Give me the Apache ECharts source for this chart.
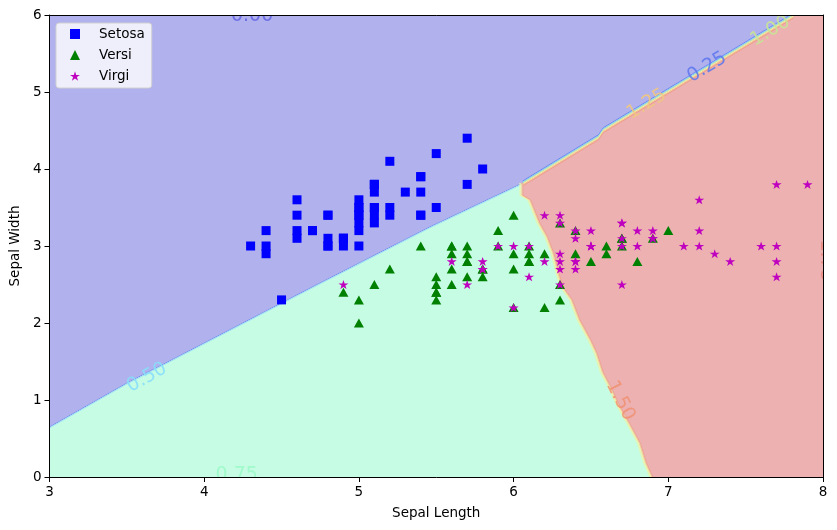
<!DOCTYPE html>
<html>
<head>
<meta charset="utf-8">
<script src="https://cdn.jsdelivr.net/npm/echarts@6/dist/echarts.min.js"></script>
<style>
html, body { margin: 0; padding: 0; background: #fff; }
#main { width: 837px; height: 530px; }
</style>
</head>
<body>
<div id="main"></div>
<script>
// iris: [sepal length, sepal width]
const setosa = [[5.1,3.5],[4.9,3.0],[4.7,3.2],[4.6,3.1],[5.0,3.6],[5.4,3.9],[4.6,3.4],[5.0,3.4],[4.4,2.9],[4.9,3.1],
    [5.4,3.7],[4.8,3.4],[4.8,3.0],[4.3,3.0],[5.8,4.0],[5.7,4.4],[5.4,3.9],[5.1,3.5],[5.7,3.8],[5.1,3.8],
    [5.4,3.4],[5.1,3.7],[4.6,3.6],[5.1,3.3],[4.8,3.4],[5.0,3.0],[5.0,3.4],[5.2,3.5],[5.2,3.4],[4.7,3.2],
    [4.8,3.1],[5.4,3.4],[5.2,4.1],[5.5,4.2],[4.9,3.1],[5.0,3.2],[5.5,3.5],[4.9,3.1],[4.4,3.0],[5.1,3.4],
    [5.0,3.5],[4.5,2.3],[4.4,3.2],[5.0,3.5],[5.1,3.8],[4.8,3.0],[5.1,3.8],[4.6,3.2],[5.3,3.7],[5.0,3.3]];
const versi = [[7.0,3.2],[6.4,3.2],[6.9,3.1],[5.5,2.3],[6.5,2.8],[5.7,2.8],[6.3,3.3],[4.9,2.4],[6.6,2.9],[5.2,2.7],
    [5.0,2.0],[5.9,3.0],[6.0,2.2],[6.1,2.9],[5.6,2.9],[6.7,3.1],[5.6,3.0],[5.8,2.7],[6.2,2.2],[5.6,2.5],
    [5.9,3.2],[6.1,2.8],[6.3,2.5],[6.1,2.8],[6.4,2.9],[6.6,3.0],[6.8,2.8],[6.7,3.0],[6.0,2.9],[5.7,2.6],
    [5.5,2.4],[5.5,2.4],[5.8,2.7],[6.0,2.7],[5.4,3.0],[6.0,3.4],[6.7,3.1],[6.3,2.3],[5.6,3.0],[5.5,2.5],
    [5.5,2.6],[6.1,3.0],[5.8,2.6],[5.0,2.3],[5.6,2.7],[5.7,3.0],[5.7,2.9],[6.2,2.9],[5.1,2.5],[5.7,2.8]];
const virgi = [[6.3,3.3],[5.8,2.7],[7.1,3.0],[6.3,2.9],[6.5,3.0],[7.6,3.0],[4.9,2.5],[7.3,2.9],[6.7,2.5],[7.2,3.6],
    [6.5,3.2],[6.4,2.7],[6.8,3.0],[5.7,2.5],[5.8,2.8],[6.4,3.2],[6.5,3.0],[7.7,3.8],[7.7,2.6],[6.0,2.2],
    [6.9,3.2],[5.6,2.8],[7.7,2.8],[6.3,2.7],[6.7,3.3],[7.2,3.2],[6.2,2.8],[6.1,3.0],[6.4,2.8],[7.2,3.0],
    [7.4,2.8],[7.9,3.8],[6.4,2.8],[6.3,2.8],[6.1,2.6],[7.7,3.0],[6.3,3.4],[6.4,3.1],[6.0,3.0],[6.9,3.1],
    [6.7,3.1],[6.9,3.1],[5.8,2.7],[6.8,3.2],[6.7,3.3],[6.7,3.0],[6.3,2.5],[6.5,3.0],[6.2,3.4],[5.9,3.0]];

// decision boundaries
const boundBlueGreen = [[3.0,0.65],[3.5,1.22],[4.71,2.48],[5.46,3.25],[6.06,3.82]];
const boundBlueRed = [[6.06,3.82],[6.55,4.42],[6.58,4.51],[7.81,6.0]];
const boundGreenRed = [[6.06,3.82],[6.06,3.66],[6.11,3.60],[6.17,3.30],[6.22,3.12],[6.26,2.91],[6.30,2.60],
    [6.32,2.47],[6.38,2.30],[6.43,2.04],[6.50,1.78],[6.54,1.61],[6.58,1.36],[6.63,1.17],[6.69,0.91],
    [6.75,0.70],[6.82,0.44],[6.86,0.18],[6.90,0.0]];

// contour labels: x, y, text, angle
const labelPos = [[4.31,5.99],[7.25,5.32],[3.63,1.29],[4.21,0.03],[7.66,5.79],[6.86,4.84],[6.69,0.99],[8.02,2.81]];
const labelText = ['0.00','0.25','0.50','0.75','1.00','1.25','1.50','1.75'];
const labelAngle = [0, 31, 29, 0, 31, 31, -63, -90];
const labelColor = ['rgba(100,100,228,0.85)','rgba(92,118,238,0.85)','rgba(135,222,250,0.9)','rgba(155,250,200,0.9)',
    'rgba(200,228,150,0.9)','rgba(240,198,130,0.9)','rgba(240,145,115,0.85)','rgba(235,135,125,0.85)'];

const FONT = 'DejaVu Sans';

let myChart = echarts.init(document.getElementById('main'));

// regions built from the boundaries
let polyBlue = [[3,6]].concat(boundBlueGreen, boundBlueRed.slice(1));
let polyGreen = [[3,0]].concat(boundBlueGreen, boundGreenRed.slice(1));
let polyRed = boundBlueRed.concat([[8,6],[8,0]], boundGreenRed.slice().reverse());

function regionSeries(poly, color) {
    return {
        type: 'custom',
        silent: true,
        clip: true,
        z: 1,
        data: [[poly[0][0], poly[0][1]]],
        renderItem: (params, api) => ({
            type: 'polygon',
            shape: { points: poly.map(p => api.coord(p)) },
            style: { fill: color, stroke: color, lineWidth: 0.5 }
        })
    };
}

// thin coloured contour lines along a boundary, shifted a pixel each
function strokeSeries(pts, colors, vertical, start) {
    return {
        type: 'custom',
        silent: true,
        clip: true,
        z: 2,
        data: [[pts[0][0], pts[0][1]]],
        renderItem: (params, api) => {
            let px = pts.map(p => api.coord(p));
            return {
                type: 'group',
                children: colors.map((c, i) => ({
                    type: 'polyline',
                    shape: {
                        points: px.map(p => vertical ? [p[0], p[1] + start + i] : [p[0] + start + i, p[1]])
                    },
                    style: { stroke: c, lineWidth: 1, fill: null }
                }))
            };
        }
    };
}

let option = {
    animation: false,
    backgroundColor: '#fff',
    textStyle: { fontFamily: FONT },
    grid: { left: 48, right: 14, top: 15, bottom: 53 },
    legend: {
        orient: 'vertical',
        left: 56,
        top: 23,
        data: ['Setosa', 'Versi', 'Virgi'],
        backgroundColor: 'rgba(255,255,255,0.8)',
        borderColor: '#d0d0d0',
        borderWidth: 1,
        borderRadius: 3,
        padding: [4, 7, 5, 14],
        itemWidth: 10,
        itemHeight: 10,
        itemGap: 7,
        textStyle: { fontFamily: FONT, fontSize: 13.5, color: '#000', lineHeight: 14, padding: [0, 0, 0, 14] }
    },
    xAxis: [{
        type: 'value', min: 3, max: 8, interval: 1, z: 10,
        name: 'Sepal Length', nameLocation: 'middle', nameGap: 29,
        nameTextStyle: { fontFamily: FONT, fontSize: 13.5, color: '#000' },
        axisLine: { show: true, onZero: false, lineStyle: { color: '#000', width: 1 } },
        axisTick: { show: true, length: 5, lineStyle: { color: '#000' } },
        axisLabel: { fontFamily: FONT, fontSize: 13.5, color: '#000', margin: 8 },
        splitLine: { show: false }
    }, {
        type: 'value', min: 3, max: 8, position: 'top', z: 10,
        axisLine: { show: true, onZero: false, lineStyle: { color: '#000', width: 1 } },
        axisTick: { show: false }, axisLabel: { show: false }, splitLine: { show: false }
    }],
    yAxis: [{
        type: 'value', min: 0, max: 6, interval: 1, z: 10,
        name: 'Sepal Width', nameLocation: 'middle', nameGap: 22,
        nameTextStyle: { fontFamily: FONT, fontSize: 13.5, color: '#000' },
        axisLine: { show: true, onZero: false, lineStyle: { color: '#000', width: 1 } },
        axisTick: { show: true, length: 5, lineStyle: { color: '#000' } },
        axisLabel: { fontFamily: FONT, fontSize: 13.5, color: '#000', margin: 8 },
        splitLine: { show: false }
    }, {
        type: 'value', min: 0, max: 6, position: 'right', z: 10,
        axisLine: { show: true, onZero: false, lineStyle: { color: '#000', width: 1 } },
        axisTick: { show: false }, axisLabel: { show: false }, splitLine: { show: false }
    }],
    series: [
        regionSeries(polyBlue, '#b0b1ed'),
        regionSeries(polyGreen, '#c7fce4'),
        regionSeries(polyRed, '#ecb1b0'),
        strokeSeries(boundBlueGreen, ['#7d8cf0', '#a0e4f6'], true, 0),
        strokeSeries(boundBlueRed, ['#6f86f0', '#86d4f4', '#b8f0b0', '#f4f0a4', '#f4c890', '#f09c8c'], true, -2),
        strokeSeries(boundGreenRed, ['#def8b4', '#f6f0a8', '#f6cc94', '#f0a290'], false, -3),
        {
            type: 'custom',
            silent: true,
            clip: true,
            z: 3,
            data: labelPos,
            renderItem: (params, api) => {
                let i = params.dataIndex;
                let p = api.coord(labelPos[i]);
                return {
                    type: 'text',
                    x: p[0], y: p[1],
                    rotation: labelAngle[i] * Math.PI / 180,
                    style: {
                        text: labelText[i], fill: labelColor[i],
                        font: '19px "DejaVu Sans"', align: 'center', verticalAlign: 'middle'
                    }
                };
            }
        },
        {
            name: 'Setosa', type: 'scatter', data: setosa, z: 5,
            symbol: 'rect', symbolSize: 9,
            itemStyle: { color: '#0000ff', opacity: 1 }
        },
        {
            name: 'Versi', type: 'scatter', data: versi, z: 5,
            symbol: 'triangle', symbolSize: [10, 9],
            itemStyle: { color: '#008000', opacity: 1 }
        },
        {
            name: 'Virgi', type: 'scatter', data: virgi, z: 5,
            symbol: 'path://M0,-10 L2.245,-3.09 L9.51,-3.09 L3.633,1.18 L5.88,8.09 L0,3.82 L-5.88,8.09 L-3.633,1.18 L-9.51,-3.09 L-2.245,-3.09 Z',
            symbolSize: [10, 9.5], symbolKeepAspect: true,
            itemStyle: { color: '#bf00bf', opacity: 1 }
        }
    ]
};
myChart.setOption(option);
</script>
</body>
</html>
